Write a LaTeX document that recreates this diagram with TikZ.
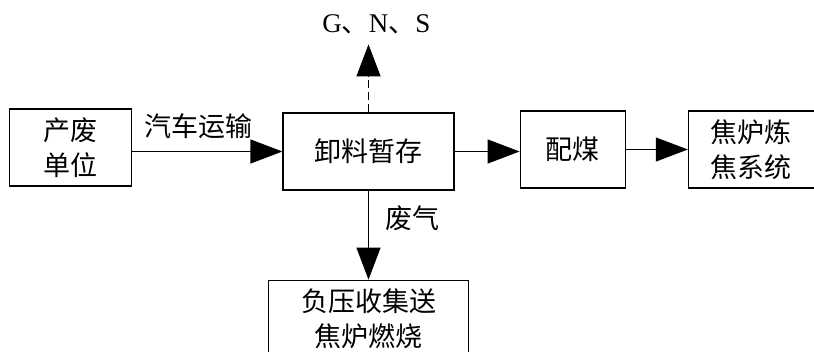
\documentclass[tikz,border=0pt]{standalone}
\usepackage{fontspec}
\setmainfont{Liberation Serif}
\newfontfamily\cjk{Noto Sans CJK SC}
\usetikzlibrary{positioning}
\usetikzlibrary{arrows.meta}

\begin{document}
\begin{tikzpicture}[x=0.5pt, y=-0.5pt,
    stagebox/.style={rectangle, draw, line width=0.6pt, align=center, minimum height=38.5pt, inner sep=0pt, font=\cjk\fontsize{13.5}{17.5}\selectfont},
    flow/.style={line width=0.6pt, -{Triangle[length=16pt, width=12pt]}},
    vent/.style={flow, dash pattern=on 4pt off 2pt},
    tag/.style={inner sep=0pt, font=\fontsize{13.5}{17.5}\selectfont},
  ]
  \useasboundingbox (0,0) rectangle (814,352);
  %Nodes
  \node[stagebox, minimum width=85.5pt] (store)                               at (368.5,151.5) {卸料暂存};
  \node[stagebox, minimum width=61pt]   (source) [left=75pt of store, yshift=2pt]  {产废\\单位};
  \node[stagebox, minimum width=52.5pt] (blend)  [right=32.5pt of store, yshift=1pt] {配煤};
  \node[stagebox, minimum width=63pt]   (coke)   [right=31pt of blend]            {焦炉炼\\焦系统};
  \node[stagebox, minimum width=100pt]  (burn)   [below=44.5pt of store]          {负压收集送\\焦炉燃烧};
  \coordinate[above=34pt of store.north] (gnsend);
  \node[tag] (gns) [above=5pt of gnsend, xshift=4pt] {G{\cjk 、}N{\cjk 、}S};

  %Lines
  \draw[flow] (source.east |- store) -- node[tag, font=\cjk\fontsize{13.5}{17.5}\selectfont, pos=0.44, above=6pt] (haullbl) {汽车运输} (store);
  \draw[flow] (store.east) -- (store.east -| blend.west);
  \draw[flow] (blend.east) -- (blend.east -| coke.west);
  \draw[vent] (store.north) -- (gnsend);
  \draw[flow] (store) -- node[tag, font=\cjk\fontsize{13.5}{17.5}\selectfont, pos=0.31, right=8pt] (gaslbl) {废气} (burn);
\end{tikzpicture}
\end{document}
